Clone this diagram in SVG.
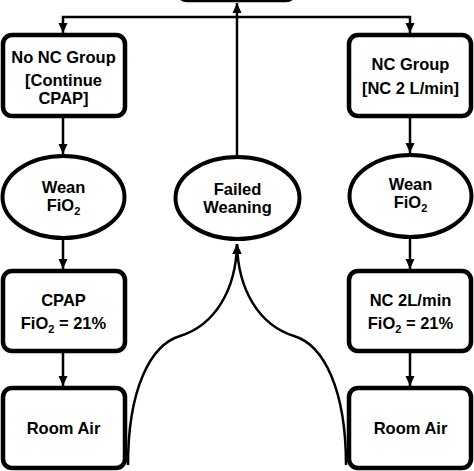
<svg xmlns="http://www.w3.org/2000/svg" width="474" height="471" viewBox="0 0 474 471">
<style>
.box{fill:#fff;stroke:#000;stroke-width:4.5}
.ell{fill:#fff;stroke:#000;stroke-width:4}
.t{font-family:"Liberation Sans",Arial,Helvetica,sans-serif;font-weight:bold;font-size:16.5px;fill:#000;text-anchor:middle}
.sub{font-size:11px}
.c{fill:none;stroke:#000;stroke-width:2.5}
</style>
<defs>
<marker id="ah" markerUnits="userSpaceOnUse" markerWidth="10" markerHeight="10" viewBox="0 0 10 10" refX="10" refY="5" orient="auto">
<path d="M0,0.5 L10,5 L0,9.5 Z" fill="#000"/>
</marker>
</defs>
<rect width="474" height="471" fill="#fff"/>
<g id="connectors">
<line class="c" x1="237" y1="155" x2="237" y2="3" marker-end="url(#ah)"/>
<polyline class="c" points="237,17 63,17 63,33" marker-end="url(#ah)"/>
<polyline class="c" points="237,17 410,17 410,33" marker-end="url(#ah)"/>
<line class="c" x1="63" y1="118" x2="63" y2="154" marker-end="url(#ah)"/>
<line class="c" x1="410" y1="118" x2="410" y2="153" marker-end="url(#ah)"/>
<line class="c" x1="63" y1="239" x2="63" y2="269" marker-end="url(#ah)"/>
<line class="c" x1="410" y1="239" x2="410" y2="269" marker-end="url(#ah)"/>
<line class="c" x1="63" y1="353" x2="63" y2="386" marker-end="url(#ah)"/>
<line class="c" x1="410" y1="353" x2="410" y2="386" marker-end="url(#ah)"/>
<path class="c" d="M128,465 C128,390 150,345 180,336 C215,325 236,290 237,244" marker-end="url(#ah)"/>
<path class="c" d="M346,465 C346,390 324,345 294,336 C259,325 238,290 237,244" marker-end="url(#ah)"/>
</g>
<g id="top">
<rect class="box" x="178" y="-60" width="117" height="60" rx="9"/>
</g>
<g id="no-nc-group">
<rect class="box" x="3" y="35" width="122" height="81" rx="9"/>
<text class="t" x="63.5" y="63">No NC Group</text>
<text class="t" x="63.5" y="86">[Continue</text>
<text class="t" x="63.5" y="104">CPAP]</text>
</g>
<g id="nc-group">
<rect class="box" x="349" y="35" width="122" height="81" rx="9"/>
<text class="t" x="410.5" y="70">NC Group</text>
<text class="t" x="410.5" y="94">[NC 2 L/min]</text>
</g>
<g id="wean-left">
<ellipse class="ell" cx="63.5" cy="197" rx="61" ry="41"/>
<text class="t" x="63.5" y="193">Wean</text>
<text class="t" x="63.5" y="211">FiO<tspan class="sub" dy="4">2</tspan></text>
</g>
<g id="failed-weaning">
<ellipse class="ell" cx="237.5" cy="198" rx="62" ry="41"/>
<text class="t" x="237.5" y="195">Failed</text>
<text class="t" x="237.5" y="213">Weaning</text>
</g>
<g id="wean-right">
<ellipse class="ell" cx="410.5" cy="196" rx="61" ry="41"/>
<text class="t" x="410.5" y="190">Wean</text>
<text class="t" x="410.5" y="208">FiO<tspan class="sub" dy="4">2</tspan></text>
</g>
<g id="cpap">
<rect class="box" x="3" y="271" width="122" height="80" rx="9"/>
<text class="t" x="63.5" y="306">CPAP</text>
<text class="t" x="63.5" y="329">FiO<tspan class="sub" dy="4">2</tspan><tspan dy="-4"> = 21%</tspan></text>
</g>
<g id="nc-2l">
<rect class="box" x="349" y="271" width="122" height="80" rx="9"/>
<text class="t" x="410.5" y="306">NC 2L/min</text>
<text class="t" x="410.5" y="329">FiO<tspan class="sub" dy="4">2</tspan><tspan dy="-4"> = 21%</tspan></text>
</g>
<g id="room-air-left">
<rect class="box" x="3" y="388" width="122" height="80" rx="9"/>
<text class="t" x="63.5" y="434">Room Air</text>
</g>
<g id="room-air-right">
<rect class="box" x="349" y="388" width="122" height="80" rx="9"/>
<text class="t" x="410.5" y="434">Room Air</text>
</g>
</svg>
